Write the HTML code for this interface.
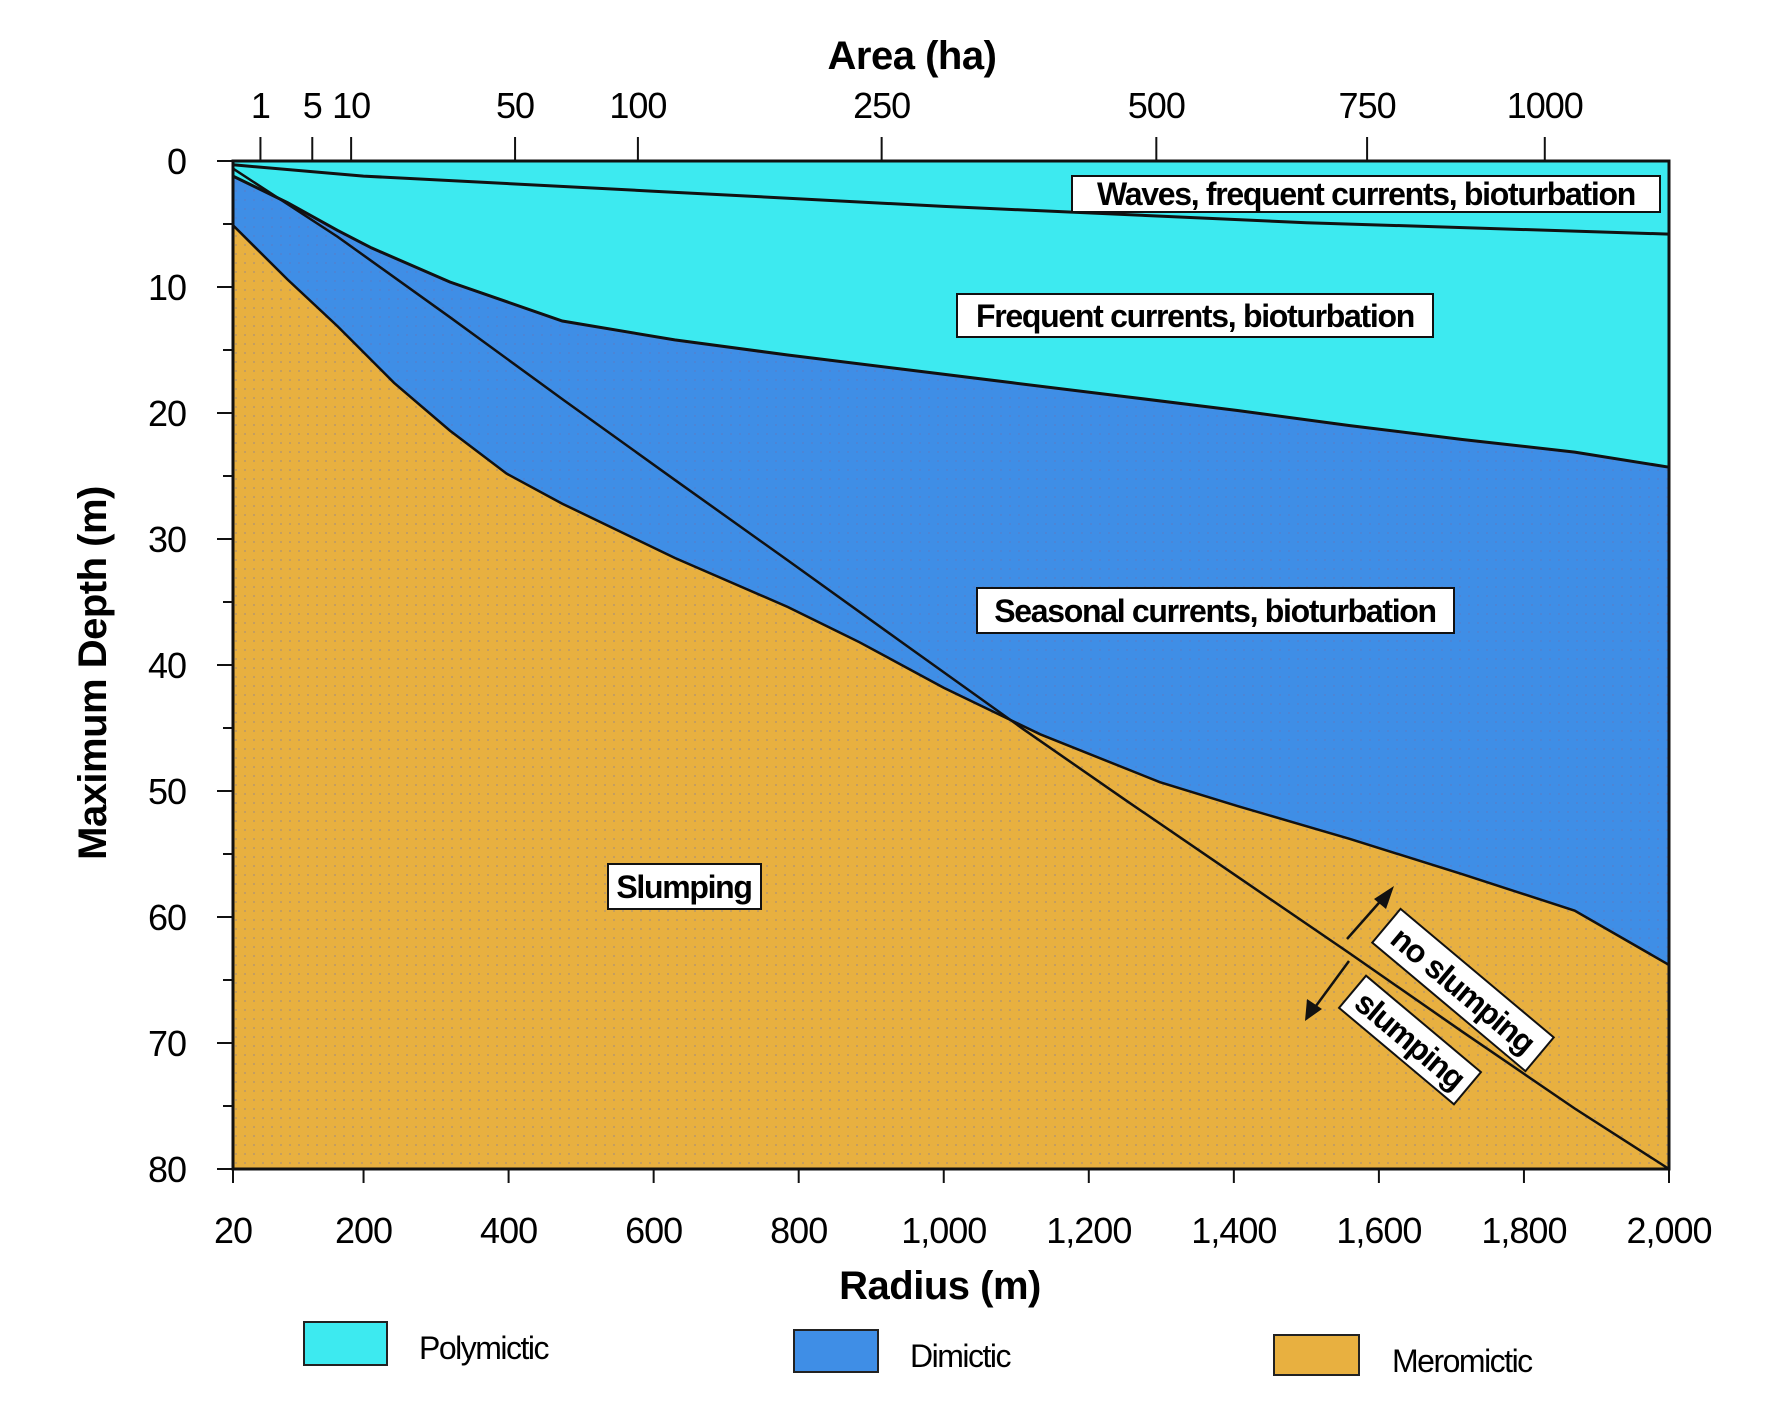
<!DOCTYPE html>
<html><head><meta charset="utf-8"><style>
body{margin:0;background:#fff;}
svg{display:block;font-family:"Liberation Sans",sans-serif;}
.tick{font-size:36px;letter-spacing:-1px;}
</style></head><body>
<svg id="chart" width="1765" height="1422" viewBox="0 0 1765 1422">
<defs>
<pattern id="dots" width="9" height="9" patternUnits="userSpaceOnUse"><circle cx="2" cy="2" r="0.9" fill="#6a6fae" opacity="0.5"/></pattern>
</defs>
<g id="plot"></g>
<g id="axes"></g>
</svg>
<script>
const radiusTicks=[20,200,400,600,800,1000,1200,1400,1600,1800,2000];
const radiusTickLabels=["20","200","400","600","800","1,000","1,200","1,400","1,600","1,800","2,000"];
const depthTicks=[0,10,20,30,40,50,60,70,80];
const areaTicks=[1,5,10,50,100,250,500,750,1000];
const wavesR=[20,200,600,1000,1500,2000];
const wavesD=[0.3,1.2,2.4,3.6,4.9,5.8];
const polyR=[20,95,164,211,319,474,629,785,940,1095,1250,1405,1560,1715,1870,2000];
const polyD=[1.2,3.3,5.5,6.9,9.6,12.7,14.2,15.4,16.5,17.6,18.7,19.8,21.0,22.1,23.1,24.3];
const dimR=[20,95,164,242,319,397,474,629,785,884,1000,1133,1298,1405,1560,1715,1870,2000];
const dimD=[5.1,9.4,13.1,17.6,21.4,24.8,27.2,31.5,35.4,38.2,41.8,45.5,49.3,51.2,53.8,56.6,59.5,63.8];
const slumpR=[20,164,319,474,629,785,940,1110,1250,1405,1560,1715,1870,2000];
const slumpD=[0.6,6.0,12.4,18.9,25.3,31.7,38.1,45.1,50.7,56.8,62.9,69.1,75.2,80.2];

const X0=233,X1=1669,Y0=161,DY=12.6;
function x(r){return X0+(r-20)/1980*(X1-X0);}
function y(d){return Y0+d*DY;}
function areaToR(a){return 1.025*Math.sqrt(a*10000/Math.PI);}
const NS="http://www.w3.org/2000/svg";
function mk(tag,attrs,parent){const e=document.createElementNS(NS,tag);for(const k in attrs)e.setAttribute(k,attrs[k]);parent.appendChild(e);return e;}
function pts(R,D){return R.map((r,i)=>x(r).toFixed(1)+","+y(Math.min(D[i],80)).toFixed(1));}
const plot=document.getElementById('plot'),axes=document.getElementById('axes');

let p;
p=mk('path',{d:"M"+x(20)+","+y(0)+" L"+x(2000)+","+y(0)+" L"+pts(polyR.slice().reverse(),polyD.slice().reverse()).join(" L")+" Z",fill:"#3deaf0"},plot);


p=mk('path',{d:"M"+pts(polyR,polyD).join(" L")+" L"+pts(dimR.slice().reverse(),dimD.slice().reverse()).join(" L")+" Z",fill:"#3f8ee6"},plot);


p=mk('path',{d:"M"+pts(dimR,dimD).join(" L")+" L"+x(2000)+","+y(80)+" L"+x(20)+","+y(80)+" Z",fill:"#e8b040"},plot);


p=mk('path',{d:"M"+pts(polyR,polyD).join(" L")+" L"+x(2000)+","+y(80)+" L"+x(20)+","+y(80)+" Z",fill:"url(#dots)"},plot);



p=mk('polyline',{points:pts(wavesR,wavesD).join(" "),fill:"none",stroke:"#111",'stroke-width':3},plot);


p=mk('polyline',{points:pts(polyR,polyD).join(" "),fill:"none",stroke:"#111",'stroke-width':3},plot);


p=mk('polyline',{points:pts(dimR,dimD).join(" "),fill:"none",stroke:"#111",'stroke-width':2.5},plot);


p=mk('polyline',{points:pts(slumpR,slumpD).join(" "),fill:"none",stroke:"#111",'stroke-width':2.5},plot);



p=mk('rect',{x:X0,y:Y0,width:X1-X0,height:y(80)-Y0,fill:"none",stroke:"#111",'stroke-width':3},axes);



radiusTicks.forEach((r,i)=>{
  const t=mk('line',{x1:x(r),x2:x(r),y1:y(80),y2:y(80)+14,stroke:"#111",'stroke-width':2},axes);
  
  
  const l=mk('text',{x:x(r),y:1243,'text-anchor':'middle',class:'tick'},axes);
  l.textContent=radiusTickLabels[i];
  
  
});
depthTicks.forEach(d=>{
  const t=mk('line',{x1:X0-16,x2:X0,y1:y(d),y2:y(d),stroke:"#111",'stroke-width':2},axes);
  
  
  if(d<80){const m=mk('line',{x1:X0-10,x2:X0,y1:y(d+5),y2:y(d+5),stroke:"#111",'stroke-width':2},axes);
  
  }
  const l=mk('text',{x:186,y:y(d)+13,'text-anchor':'end',class:'tick'},axes);
  l.textContent=d;
  
  
});
areaTicks.forEach(a=>{
  const xx=x(areaToR(a));
  const t=mk('line',{x1:xx,x2:xx,y1:Y0-24,y2:Y0,stroke:"#111",'stroke-width':2},axes);
  
  
  const l=mk('text',{x:xx,y:118,'text-anchor':'middle',class:'tick'},axes);
  l.textContent=a;
  
  
});
</script>
<div style="position:absolute;left:0;top:0;width:1765px;height:1422px;pointer-events:none;">
<svg width="1765" height="1422" style="font-family:'Liberation Sans',sans-serif;">
<g transform="translate(0,-13)">
<text x="912" y="82" text-anchor="middle" font-size="40" font-weight="bold" letter-spacing="-0.5">Area (ha)</text>
<text x="940" y="1312" text-anchor="middle" font-size="40" font-weight="bold" letter-spacing="-0.5">Radius (m)</text>
<text transform="translate(106,686) rotate(-90)" text-anchor="middle" font-size="40" font-weight="bold" letter-spacing="-0.5">Maximum Depth (m)</text>
<g><rect x="1072" y="189" width="588" height="36" fill="#fff" stroke="#111" stroke-width="2"/><text x="1366" y="218" text-anchor="middle" font-weight="bold" font-size="32" letter-spacing="-1.3">Waves, frequent currents, bioturbation</text></g>
<g><rect x="957" y="307" width="476" height="43" fill="#fff" stroke="#111" stroke-width="2"/><text x="1195" y="340" text-anchor="middle" font-weight="bold" font-size="32" letter-spacing="-1.3">Frequent currents, bioturbation</text></g>
<g><rect x="977" y="601" width="477" height="45" fill="#fff" stroke="#111" stroke-width="2"/><text x="1215" y="635" text-anchor="middle" font-weight="bold" font-size="32" letter-spacing="-1.3">Seasonal currents, bioturbation</text></g>
<g><rect x="608" y="877" width="153" height="45" fill="#fff" stroke="#111" stroke-width="2"/><text x="684" y="911" text-anchor="middle" font-weight="bold" font-size="32" letter-spacing="-1.3">Slumping</text></g>
<g transform="translate(1463,1003) rotate(40)"><rect x="-100" y="-22" width="200" height="44" fill="#fff" stroke="#111" stroke-width="2"/><text x="0" y="11" text-anchor="middle" font-weight="bold" font-size="32" letter-spacing="-1.3">no slumping</text></g>
<g transform="translate(1410,1053) rotate(40)"><rect x="-75" y="-21" width="150" height="42" fill="#fff" stroke="#111" stroke-width="2"/><text x="0" y="11" text-anchor="middle" font-weight="bold" font-size="32" letter-spacing="-1.3">slumping</text></g>
<g><line x1="1347" y1="952" x2="1385" y2="909" stroke="#111" stroke-width="2.5"/><polygon points="1394,899 1374,912 1386,922" fill="#111"/></g>
<g><line x1="1349" y1="974" x2="1313" y2="1023" stroke="#111" stroke-width="2.5"/><polygon points="1305,1034 1307,1012 1322,1022" fill="#111"/></g>
<g>
<g><rect x="304" y="1335" width="83" height="43" fill="#3deaf0" stroke="#222" stroke-width="2"/><text x="419" y="1372" font-size="32" letter-spacing="-1.5">Polymictic</text></g>
<g><rect x="794" y="1343" width="84" height="42" fill="#3f8ee6" stroke="#222" stroke-width="2"/><text x="910" y="1380" font-size="32" letter-spacing="-1.5">Dimictic</text></g>
<g><rect x="1274" y="1348" width="85" height="40" fill="#e8b040" stroke="#222" stroke-width="2"/><text x="1392" y="1385" font-size="32" letter-spacing="-1.5">Meromictic</text></g>
</g>
</g>
</svg></div>
</body></html>
